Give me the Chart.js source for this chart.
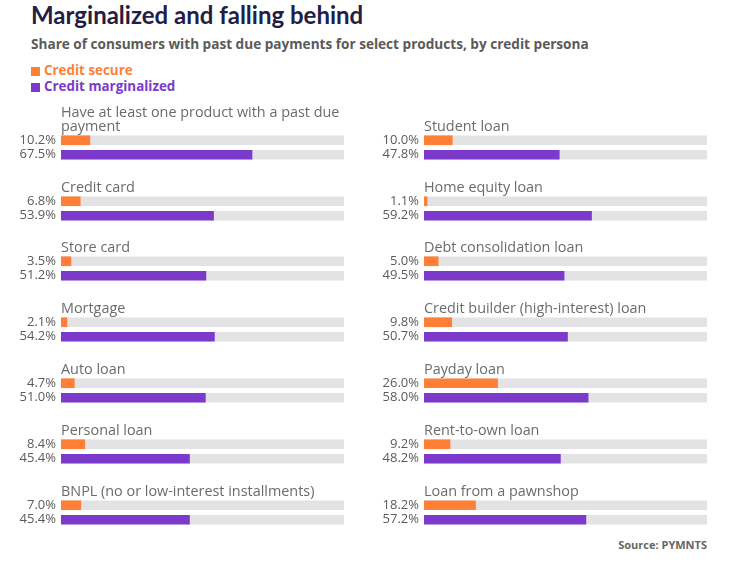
<!DOCTYPE html>
<html>
<head>
<meta charset="utf-8">
<script src="https://cdn.jsdelivr.net/npm/chart.js@4/dist/chart.umd.min.js"></script>
<style>
  body { margin: 0; background: #fff; width: 739px; height: 566px; position: relative; overflow: hidden; font-family: "Open Sans", sans-serif; }
  #title { position: absolute; left: 31px; top: 0px; font: bold 24px Lato, sans-serif; color: #221e44; white-space: nowrap; }
  #subtitle { position: absolute; left: 31px; top: 34px; font: bold 13.6px "Open Sans", sans-serif; color: #5a5a5a; white-space: nowrap; }
  .leg { position: absolute; left: 31px; font: bold 13.4px "Open Sans", sans-serif; white-space: nowrap; }
  .leg span { display: inline-block; width: 9px; height: 9px; margin-right: 4px; vertical-align: -1px; }
  #source { position: absolute; right: 32px; top: 537px; font: bold 11px "Open Sans", sans-serif; color: #666; }
  canvas { position: absolute; }
</style>
</head>
<body>
<div id="title">Marginalized and falling behind</div>
<div id="subtitle">Share of consumers with past due payments for select products, by credit persona</div>
<div class="leg" id="leg1" style="top:61px;color:#ff7f36"><span style="background:#ff7f36"></span>Credit secure</div>
<div class="leg" id="leg2" style="top:77px;color:#7b3ac9"><span style="background:#7b3ac9"></span>Credit marginalized</div>
<div id="source">Source: PYMNTS</div>

<script>
// data
const leftLabels = [
    ['Have at least one product with a past due', 'payment'],
    'Credit card',
    'Store card',
    'Mortgage',
    'Auto loan',
    'Personal loan',
    'BNPL (no or low-interest installments)'
];
const leftSecure = [10.2, 6.8, 3.5, 2.1, 4.7, 8.4, 7.0];
const leftMarginalized = [67.5, 53.9, 51.2, 54.2, 51.0, 45.4, 45.4];

const rightLabels = [
    'Student loan',
    'Home equity loan',
    'Debt consolidation loan',
    'Credit builder (high-interest) loan',
    'Payday loan',
    'Rent-to-own loan',
    'Loan from a pawnshop'
];
const rightSecure = [10.0, 1.1, 5.0, 9.8, 26.0, 9.2, 18.2];
const rightMarginalized = [47.8, 59.2, 49.5, 50.7, 58.0, 48.2, 57.2];

const ORANGE = '#ff7f36';
const PURPLE = '#7b3ac9';
const TRACK = '#e3e3e5';

// panel title drawn above the bars, aligned with the bar start
const panelTitle = {
    id: 'panelTitle',
    afterDraw(chart, args, opts) {
        const ctx = chart.ctx;
        const lines = [].concat(opts.text);
        ctx.save();
        ctx.font = '14.4px "Open Sans"';
        ctx.fillStyle = '#6b6b6b';
        ctx.textAlign = 'left';
        ctx.textBaseline = 'alphabetic';
        const base = chart.chartArea.top - 2.5;
        lines.forEach((l, i) => {
            ctx.fillText(l, chart.chartArea.left, base - (lines.length - 1 - i) * 14);
        });
        ctx.restore();
    }
};

function makePanel(left, top, label, secure, marg) {
    const c = document.createElement('canvas');
    c.width = 339;
    c.height = 60;
    c.style.left = left + 'px';
    c.style.top = top + 'px';
    document.body.appendChild(c);

    new Chart(c.getContext('2d'), {
        type: 'bar',
        data: {
            labels: [secure.toFixed(1) + '%', marg.toFixed(1) + '%'],
            datasets: [
                {
                    data: [secure, marg],
                    backgroundColor: [ORANGE, PURPLE],
                    barThickness: 9,
                    grouped: false,
                    borderWidth: 0
                },
                {
                    data: [100, 100],
                    backgroundColor: TRACK,
                    barThickness: 9,
                    grouped: false,
                    borderWidth: 0
                }
            ]
        },
        options: {
            indexAxis: 'y',
            responsive: false,
            animation: false,
            layout: { padding: { top: 30, bottom: 1, left: 0, right: 0 } },
            plugins: {
                legend: { display: false },
                tooltip: { enabled: false },
                panelTitle: { text: label }
            },
            scales: {
                x: { min: 0, max: 100, display: false },
                y: {
                    grid: { display: false, drawTicks: false },
                    border: { display: false },
                    ticks: {
                        padding: 5,
                        autoSkip: false,
                        color: '#5b5b5b',
                        font: { family: 'Open Sans', size: 13 }
                    },
                    afterFit(scale) {
                        scale.width = 56;
                        scale.paddingTop = 0;
                        scale.paddingBottom = 0;
                    }
                }
            }
        },
        plugins: [panelTitle]
    });
}

const rowStart = 140;   // centre of first orange bar
const rowStep = 60.8;
leftLabels.forEach((lab, i) => {
    makePanel(5, rowStart + i * rowStep - 7.25 - 30, lab, leftSecure[i], leftMarginalized[i]);
});
rightLabels.forEach((lab, i) => {
    makePanel(368, rowStart + i * rowStep - 7.25 - 30, lab, rightSecure[i], rightMarginalized[i]);
});
</script>
</body>
</html>
